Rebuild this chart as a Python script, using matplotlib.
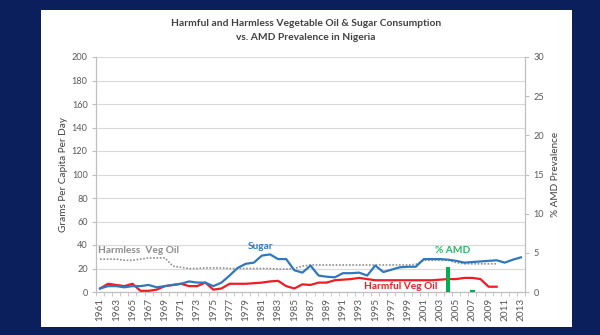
import numpy as np
import matplotlib
matplotlib.use("Agg")
import matplotlib.pyplot as plt
from matplotlib.patches import Rectangle
from matplotlib.ticker import MultipleLocator, FixedLocator

plt.rcParams['font.family'] = ['Lato', 'DejaVu Sans']

years = list(range(1961, 2014))

sugar = [3, 5, 5, 4, 5, 5, 6, 4, 5, 6,
         7, 9, 8, 8, 5, 8, 14, 20.5, 24, 25,
         31, 32, 28, 28, 18.5, 16.5, 22.5, 14, 13, 12.5,
         16, 16, 16.5, 14, 22.5, 17, 19, 21, 21.5, 21.5,
         28, 28, 28, 27.5, 26.5, 25, 25.5, 26, 26.5, 27,
         25, 27.5, 29.5]

harmful_oil = [3, 7, 6, 5, 7, 1, 1, 2, 5, 6,
               7, 5, 5, 8, 2, 3, 7, 7, 7, 7.5,
               8, 9, 9.5, 5, 3, 6.5, 6, 8, 8, 10,
               10.5, 11, 12, 11, 10, 10, 10, 10, 10, 10,
               10, 10, 10.5, 11, 11, 12, 12, 11, 4.5, 4.5,
               None, None, None]

harmless_oil = [28, 28, 28, 27, 27, 28, 29, 29, 29, 22,
                21, 20, 20, 20.5, 20.5, 20.5, 20, 20, 20, 20,
                20, 20, 19.5, 19.5, 20, 22, 23, 23, 23, 23,
                23, 23, 23, 23, 23, 23, 23, 23, 23, 23.5,
                27, 27, 27, 27, 25, 24, 24, 24, 24, 24,
                None, None, None]

amd_years = [2004, 2007]
amd_pct = [3.2, 0.2]

navy = '#0b1f5c'
text_dark = '#404040'
tick_gray = '#595959'

def as_array(vals):
    return np.array([np.nan if v is None else v for v in vals], dtype=float)

x = np.arange(len(years))

fig = plt.figure(figsize=(6.0, 3.35), dpi=100, facecolor=navy)
fig.patches.append(Rectangle((41 / 600, 8 / 335), 531 / 600, 317 / 335,
                             transform=fig.transFigure, facecolor='white',
                             edgecolor='none', zorder=-5))

ax = fig.add_axes([96 / 600, 43 / 335, 429 / 600, 235 / 335])
ax.set_facecolor('none')
ax2 = ax.twinx()
ax2.set_facecolor('none')

# left axis: grams per capita per day
ax.set_xlim(-0.5, len(years) - 0.5)
ax.set_ylim(0, 200)
ax.yaxis.set_major_locator(MultipleLocator(20))
ax.grid(axis='y', color='#d9d9d9', lw=0.8)
ax.set_axisbelow(True)

ax.plot(x, as_array(harmless_oil), color='#8f8f8f', lw=1.2,
        linestyle=(0, (1, 1)), zorder=3)
ax.plot(x, as_array(harmful_oil), color='#ee1c25', lw=1.6, zorder=4)
ax.plot(x, as_array(sugar), color='#2f78bd', lw=1.6, zorder=5)

# right axis: AMD prevalence
ax2.set_ylim(0, 30)
ax2.yaxis.set_major_locator(MultipleLocator(5))
ax2.bar([years.index(y) for y in amd_years], amd_pct, width=0.55,
        color='#00b050', zorder=6)

ax.set_xticks(x[::2])
ax.set_xticklabels([str(y) for y in years[::2]], rotation=90)
ax.xaxis.set_minor_locator(FixedLocator(np.arange(-0.5, len(years), 1)))
ax.tick_params(axis='x', which='major', length=0, pad=4,
               labelsize=7.2, labelcolor=tick_gray)
ax.tick_params(axis='x', which='minor', length=3, color='#bfbfbf')
ax.tick_params(axis='y', length=3, color='#bfbfbf', labelsize=6.6,
               labelcolor=tick_gray, pad=3)
ax2.tick_params(axis='y', length=3, color='#bfbfbf', labelsize=6.6,
                labelcolor=tick_gray, pad=3)

for a in (ax, ax2):
    a.spines['top'].set_visible(False)
    for s in ('left', 'right', 'bottom'):
        a.spines[s].set_color('#bfbfbf')
        a.spines[s].set_linewidth(0.8)

ax.set_ylabel('Grams Per Capita Per Day', fontsize=7.2, color=text_dark,
              labelpad=3)
ax2.set_ylabel('% AMD Prevalence', fontsize=7.2, color=text_dark,
               labelpad=5)

# series labels
ax.text(4.8, 35.7, 'Harmless  Veg Oil', color='#8c8c8c', fontsize=7.3,
        fontweight='bold', ha='center', va='center')
ax.text(19.8, 39, 'Sugar', color='#2f78bd', fontsize=7.3,
        fontweight='bold', ha='center', va='center')
ax.text(43.6, 35, '% AMD', color='#2cb463', fontsize=7.3,
        fontweight='bold', ha='center', va='center')
ax.text(37.1, 4.8, 'Harmful Veg Oil', color='#ee1c25', fontsize=7.3,
        fontweight='bold', ha='center', va='center', zorder=7)

fig.text(306 / 600, 1 - 24 / 335,
         'Harmful and Harmless Vegetable Oil & Sugar Consumption',
         ha='center', va='center', fontsize=7.4, fontweight='bold',
         color=text_dark)
fig.text(306 / 600, 1 - 38 / 335, 'vs. AMD Prevalence in Nigeria',
         ha='center', va='center', fontsize=7.4, fontweight='bold',
         color=text_dark)

fig.savefig('out.png', dpi=100, facecolor=navy)
